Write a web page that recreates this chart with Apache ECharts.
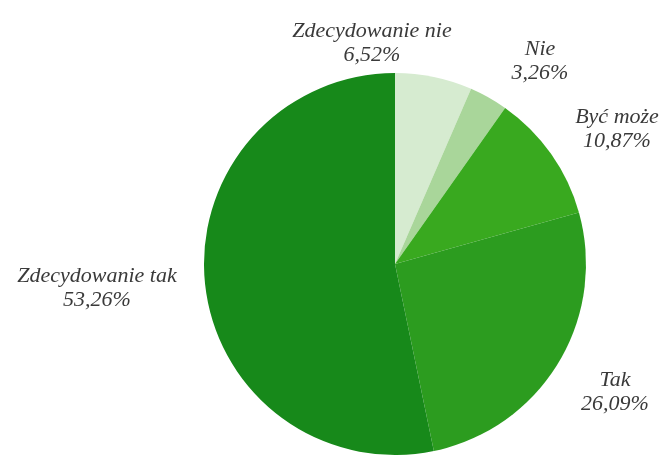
<!DOCTYPE html>
<html>
<head>
<meta charset="utf-8">
<script src="https://cdn.jsdelivr.net/npm/echarts@6/dist/echarts.min.js"></script>
<style>
html,body{margin:0;padding:0;background:#fff;}
#c{width:664px;height:455px;}
</style>
</head>
<body>
<div id="c"></div>
<script>
var categories = ['Zdecydowanie nie', 'Nie', 'Być może', 'Tak', 'Zdecydowanie tak'];
var values = [6.52, 3.26, 10.87, 26.09, 53.26];
var colors = ['#d6ebd0', '#a9d69a', '#39a91f', '#2c9c1f', '#17891a'];
var labelPos = [[372, 43], [540, 61], [617, 129], [615, 392], [97, 288]];

var chart = echarts.init(document.getElementById('c'), null, {renderer: 'canvas'});
var data = categories.map(function (n, i) {
  return {name: n, value: values[i], itemStyle: {color: colors[i]}};
});
chart.setOption({
  animation: false,
  series: [{
    type: 'pie',
    center: [395, 264],
    radius: 191,
    startAngle: 90,
    clockwise: true,
    data: data,
    itemStyle: {borderWidth: 0},
    emphasis: {disabled: true},
    label: {
      show: true,
      position: 'outside',
      overflow: 'none',
      fontFamily: 'Liberation Serif',
      fontStyle: 'italic',
      fontSize: 22,
      lineHeight: 24,
      color: '#3a3a3a',
      align: 'center',
      formatter: function (p) {
        return p.name + '\n' + p.value.toFixed(2).replace('.', ',') + '%';
      }
    },
    labelLine: {show: false},
    labelLayout: function (p) {
      var pos = labelPos[p.dataIndex];
      return {x: pos[0], y: pos[1], align: 'center', verticalAlign: 'middle'};
    }
  }]
});
</script>
</body>
</html>
